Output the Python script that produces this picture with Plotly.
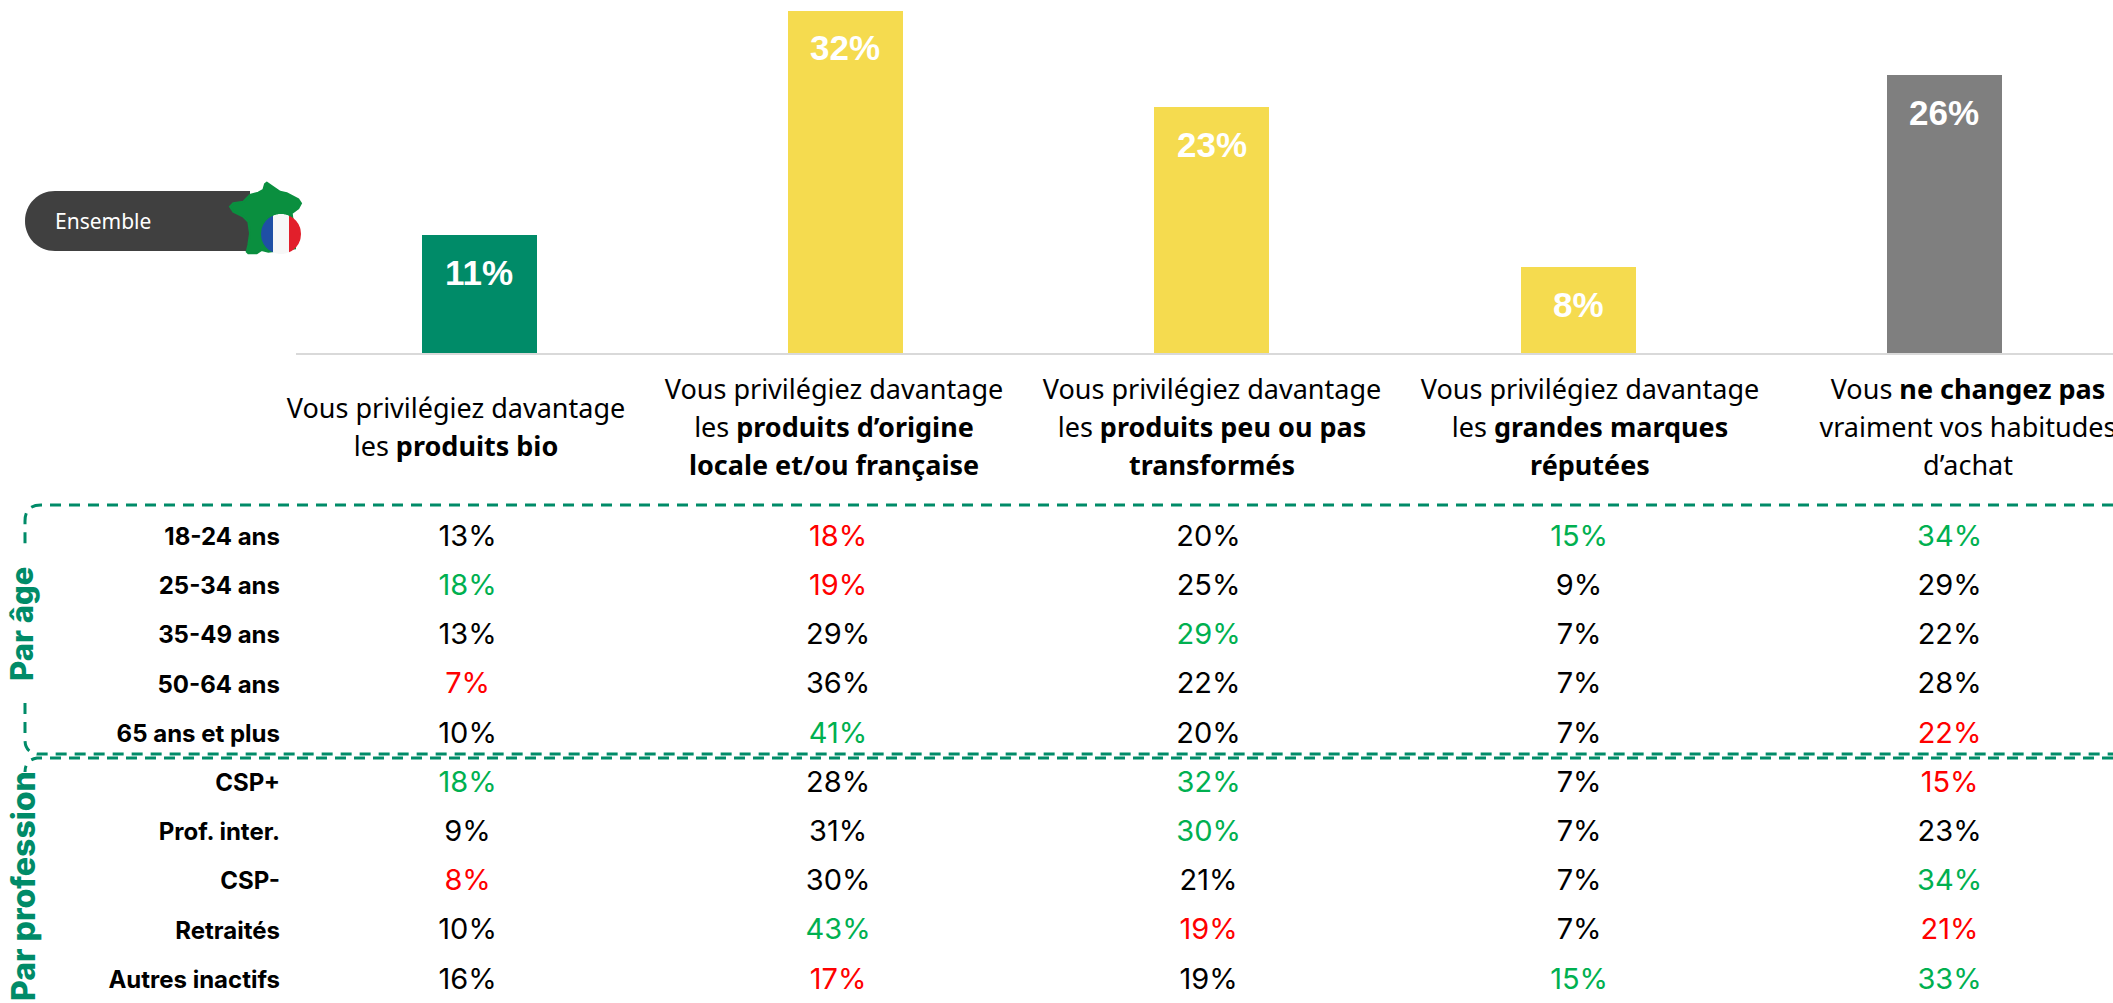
import numpy as np
import plotly.graph_objects as go

W, H = 2113, 1003

# ---------- data ----------
bar_categories = ["Produits bio", "Origine locale/française", "Peu ou pas transformés", "Grandes marques", "Pas de changement"]
bar_values = [11, 32, 23, 8, 26]
bar_colors = ["#008B68", "#F5DB4F", "#F5DB4F", "#F5DB4F", "#7F7F7F"]

label_lines = [
    ["Vous privilégiez davantage", "les <b>produits bio</b>"],
    ["Vous privilégiez davantage", "les <b>produits d’origine</b>", "<b>locale et/ou française</b>"],
    ["Vous privilégiez davantage", "les <b>produits peu ou pas</b>", "<b>transformés</b>"],
    ["Vous privilégiez davantage", "les <b>grandes marques</b>", "<b>réputées</b>"],
    ["Vous <b>ne changez pas</b>", "vraiment vos habitudes", "d’achat"],
]

row_labels = ["18-24 ans", "25-34 ans", "35-49 ans", "50-64 ans", "65 ans et plus",
              "CSP+", "Prof. inter.", "CSP-", "Retraités", "Autres inactifs"]
col_bio = [13, 18, 13, 7, 10, 18, 9, 8, 10, 16]
col_locale = [18, 19, 29, 36, 41, 28, 31, 30, 43, 17]
col_transformes = [20, 25, 29, 22, 20, 32, 30, 21, 19, 19]
col_marques = [15, 9, 7, 7, 7, 7, 7, 7, 7, 15]
col_inchange = [34, 29, 22, 28, 22, 15, 23, 34, 21, 33]
# g = above average, r = below average, n = neutral
sig_bio = list("ngnrngnrnn")
sig_locale = list("rrnngnnngr")
sig_transformes = list("nngnnggnrn")
sig_marques = list("gnnnnnnnng")
sig_inchange = list("gnnnrrngrg")
table_cols = [col_bio, col_locale, col_transformes, col_marques, col_inchange]
table_sigs = [sig_bio, sig_locale, sig_transformes, sig_marques, sig_inchange]
sig_colors = {"g": "#00B050", "r": "#FF0000", "n": "#000000"}

GREEN = "#008B68"
BODY = "Noto Sans"
TABLE = "Inter"

fig = go.Figure()

# bars
fig.add_trace(go.Bar(x=list(range(5)), y=bar_values, width=0.314, marker=dict(color=bar_colors, line_width=0),
                     hoverinfo="skip", xaxis="x", yaxis="y", showlegend=False))

# table cells
xs, ys, txt, cols = [], [], [], []
for c, (vals, sigs) in enumerate(zip(table_cols, table_sigs)):
    for r, (v, s) in enumerate(zip(vals, sigs)):
        xs.append(c); ys.append(row_labels[r]); txt.append(f"{v}%"); cols.append(sig_colors[s])
fig.add_trace(go.Scatter(x=xs, y=ys, mode="text", text=txt, textposition="middle center",
                         textfont=dict(family=TABLE, size=29, color=cols), xaxis="x2", yaxis="y2",
                         hoverinfo="skip", showlegend=False))

# category labels, one text row per line
lx, ly, lt = [], [], []
for c, lines in enumerate(label_lines):
    off = (3 - len(lines)) / 2
    for l, t in enumerate(lines):
        lx.append(c); ly.append(l + off); lt.append(t)
fig.add_trace(go.Scatter(x=lx, y=ly, mode="text", text=lt, textposition="middle center",
                         textfont=dict(family=BODY, size=27, color="#000000"), xaxis="x3", yaxis="y3",
                         hoverinfo="skip", showlegend=False, cliponaxis=False))

# ---------- decorations in page pixels (overlay axes x4/y4) ----------
def shape(path, **kw):
    d = dict(type="path", path=path, xref="x4", yref="y4", layer="above", line=dict(width=0))
    d.update(kw)
    return d

def dashed(path):
    return dict(type="path", path=path, xref="x4", yref="y4", layer="above",
                line=dict(color=GREEN, width=3, dash="11px,8px"))

def disc_slice(cx, cy, r, x0, x1):
    xx = np.linspace(x0, x1, 24)
    top = [(x, cy - np.sqrt(max(r*r - (x-cx)**2, 0))) for x in xx]
    bot = [(x, cy + np.sqrt(max(r*r - (x-cx)**2, 0))) for x in xx[::-1]]
    pts = top + bot
    return "M " + " L ".join(f"{a:.1f} {b:.1f}" for a, b in pts) + " Z"

pill = "M 55 191 H 250 V 251 H 55 C 38 251 25 238 25 221 C 25 204 38 191 55 191 Z"
france_pts = [(155,38),(170,48),(195,65),(215,70),(250,88),(258,100),(250,115),(230,130),(235,165),(240,235),(160,245),
              (140,240),(125,250),(100,250),(95,245),(100,225),(105,190),(100,155),(85,140),(55,125),(45,110),(55,100),
              (85,95),(95,85),(105,75),(130,68),(145,60),(150,42)]
france = "M " + " L ".join(f"{215+a/3:.1f} {170+b/3:.1f}" for a, b in france_pts) + " Z"
cx, cy, rr = 281, 234, 20

shapes = [
    shape(pill, fillcolor="#404040"),
    shape(france, fillcolor="#0A8F3F", line=dict(color="#0A8F3F", width=2)),
    shape(disc_slice(cx, cy, rr, cx-rr, 273), fillcolor="#1F4FA5"),
    shape(disc_slice(cx, cy, rr, 273, 289), fillcolor="#F7F7F7"),
    shape(disc_slice(cx, cy, rr, 289, cx+rr), fillcolor="#E21F2B"),
    dashed("M 2113 505 H 41 Q 25 505 25 521 V 545"),
    dashed("M 25 703 V 740 Q 25 752 37 754 H 2113"),
    dashed("M 2113 758 H 37 Q 25 760 25 772"),
]

annotations = []
for i, v in enumerate(bar_values):
    annotations.append(dict(x=i, y=v, xref="x", yref="y", yshift=-37, text=f"<b>{v}%</b>", showarrow=False,
                            font=dict(family="Liberation Sans", size=35, color="#FFFFFF"), yanchor="middle"))
annotations += [
    dict(x=53, y=221, xref="x4", yref="y4", text="Ensemble", showarrow=False, xanchor="left", yanchor="middle",
         font=dict(family=BODY, size=21, color="#FFFFFF")),
    dict(x=21, y=624, xref="x4", yref="y4", text="Par âge", textangle=-90, showarrow=False,
         font=dict(family=TABLE, size=31, color=GREEN, weight=800)),
    dict(x=23, y=886, xref="x4", yref="y4", text="Par profession", textangle=-90, showarrow=False,
         font=dict(family=TABLE, size=32, color=GREEN, weight=800)),
]

hidden = dict(visible=False, showgrid=False, zeroline=False, fixedrange=True)
fig.update_layout(
    width=W, height=H, margin=dict(l=0, r=0, t=0, b=0), autosize=False,
    paper_bgcolor="#FFFFFF", plot_bgcolor="rgba(0,0,0,0)", showlegend=False, bargap=0,
    shapes=shapes, annotations=annotations,
    xaxis=dict(domain=[296/W, 1], range=[-0.5, (W-296)/366.3-0.5], showgrid=False, zeroline=False, showticklabels=False,
               ticks="", showline=True, linecolor="#D9D9D9", linewidth=2, anchor="y"),
    yaxis=dict(domain=[(H-353)/H, 1], range=[0, 353/10.69], visible=False, showgrid=False, zeroline=False, anchor="x"),
    xaxis2=dict(domain=[296/W, 1], range=[(296-467.6)/370.5, (W-467.6)/370.5], anchor="y2", **hidden),
    yaxis2=dict(domain=[0, (H-500)/H], type="category", categoryorder="array", categoryarray=row_labels,
                range=[(H-538.5)/49.2, (500-538.5)/49.2], anchor="x2", showgrid=False, zeroline=False, showline=False,
                ticks="", tickmode="array", tickvals=row_labels, ticktext=row_labels,
                ticklabelstandoff=15, ticklabelshift=2,
                tickfont=dict(family=TABLE, size=24, color="#000000", weight=700)),
    xaxis3=dict(domain=[0, 1], range=[(0-456)/378, (W-456)/378], anchor="y3", **hidden),
    yaxis3=dict(domain=[(H-500)/H, (H-360)/H], range=[(500-392)/38, (360-392)/38], anchor="x3", **hidden),
    xaxis4=dict(domain=[0, 1], range=[0, W], anchor="y4", **hidden),
    yaxis4=dict(domain=[0, 1], range=[H, 0], anchor="x4", **hidden),
)

fig.write_html("out.html", config=dict(displayModeBar=False),
               post_script="document.body.style.margin='0';document.body.style.overflow='hidden';")
